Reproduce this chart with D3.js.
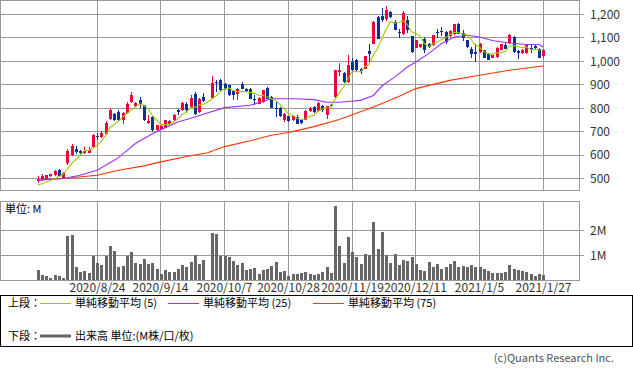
<!DOCTYPE html>
<html>
<head>
<meta charset="utf-8">
<script src="https://cdn.jsdelivr.net/npm/d3@7"></script>
<style>
  body { margin: 0; background: #fff; }
  svg { display: block; font-family: "Noto Sans CJK JP", "Noto Sans", sans-serif; }
</style>
</head>
<body>
<svg id="chart" width="633" height="373"></svg>
<script>
// daily candles, 2020/8/3 .. 2021/1/27 (index 40 = 2020/10/1, no trading)
var opens = [
  491,496,500,511,515,536,502,566,600,626,
  618,608,610,636,683,678,692,756,775,785,
  752,780,827,809,834,813,738,763,707,714,
  718,732,749,794,792,820,806,862,784,848,
  null,846,914,919,902,898,874,863,905,884,
  884,839,820,827,888,848,803,803,749,766,
  749,763,749,752,789,806,789,809,770,816,
  848,955,950,912,997,1007,969,969,1044,1075,
  1189,1192,1181,1210,1167,1123,1118,1177,1106,1058,
  1061,1097,1075,1068,1123,1131,1125,1106,1115,1160,
  1121,1089,1054,1040,1040,1047,1033,1016,1019,1050,
  1068,1078,1104,1044,1036,1036,1058,1064,1054,1021
];
var highs = [
  511,520,517,522,536,542,527,628,647,638,
  622,635,635,690,697,704,745,800,780,791,
  785,825,868,827,848,816,770,766,731,728,
  752,750,774,799,829,827,857,868,845,867,
  null,936,919,926,906,901,877,888,912,888,
  887,855,849,880,892,851,827,806,780,769,
  769,770,752,792,806,809,826,816,812,819,
  965,993,953,1026,1016,1010,972,1024,1075,1170,
  1192,1228,1234,1213,1175,1139,1213,1195,1109,1092,
  1075,1104,1078,1114,1139,1146,1129,1132,1161,1163,
  1132,1092,1061,1075,1078,1050,1036,1029,1061,1075,
  1082,1118,1107,1047,1053,1074,1068,1068,1057,1053
];
var lows = [
  480,492,497,508,512,508,498,560,596,607,
  604,605,608,632,664,675,690,750,745,746,
  732,776,824,807,803,745,734,700,703,710,
  715,729,746,770,789,785,803,772,781,825,
  null,841,870,874,880,852,834,837,881,870,
  838,813,817,824,838,800,763,763,742,743,
  746,732,735,749,786,782,786,785,756,806,
  845,936,909,909,955,959,948,966,997,1072,
  1094,1167,1174,1186,1132,1101,1111,1121,1037,1055,
  1058,1037,1058,1065,1101,1106,1072,1103,1112,1115,
  1087,1058,1016,997,1037,1013,1004,1013,1016,1047,
  1051,1075,1037,1011,1033,1033,1036,1050,1013,1016
];
var closes = [
  501,512,514,519,533,512,524,620,639,615,
  608,619,621,685,680,695,738,794,749,752,
  780,820,855,823,817,749,746,707,728,723,
  749,746,770,784,823,792,846,775,838,831,
  null,908,910,877,884,855,855,884,884,874,
  841,835,846,877,841,803,799,766,777,746,
  766,735,738,789,803,785,823,792,809,809,
  962,962,912,983,962,962,959,1021,1030,1167,
  1097,1175,1217,1189,1135,1119,1206,1132,1040,1089,
  1072,1047,1061,1111,1119,1128,1082,1129,1158,1118,
  1101,1061,1033,1030,1075,1016,1007,1026,1058,1072,
  1054,1111,1040,1036,1050,1071,1047,1057,1016,1050
];
// volume in millions
var volumes = [
  0.42,0.21,0.17,0.11,0.21,0.17,0.12,1.79,1.83,0.55,
  0.35,0.38,0.30,0.98,0.71,0.62,0.98,1.38,1.18,0.55,
  0.58,0.98,1.14,0.71,0.66,0.86,0.68,0.71,0.48,0.28,
  0.42,0.34,0.34,0.47,0.62,0.54,0.75,1.01,0.66,0.82,
  null,1.92,1.87,0.99,0.99,0.93,0.78,0.62,0.71,0.42,
  0.48,0.52,0.28,0.44,0.46,0.58,0.75,0.35,0.39,0.17,
  0.28,0.28,0.32,0.35,0.27,0.21,0.28,0.35,0.55,0.31,
  2.97,1.38,0.71,1.73,1.14,0.95,0.66,1.06,1.02,2.36,
  1.26,1.95,1.02,0.71,1.06,0.62,0.82,0.78,0.95,0.66,
  0.42,0.39,0.74,0.54,0.66,0.46,0.54,0.66,0.78,0.55,
  0.58,0.55,0.62,0.54,0.54,0.48,0.38,0.31,0.32,0.31,
  0.35,0.62,0.48,0.42,0.38,0.34,0.28,0.17,0.28,0.21
];

// moving averages (day index, value)
var ma5Head = [473, 479, 486, 493, 500, 509];
var ma25Day   = [0, 6, 10, 14, 18, 19, 23, 27, 29, 33, 37, 39, 44, 50, 55, 61, 65, 68, 71, 73, 76, 79, 81, 84, 87, 89, 92, 95, 98, 101, 104, 107, 111, 115, 118, 119];
var ma25Value = [494, 501, 515, 536, 579, 590, 650, 692, 709, 742, 763, 775, 803, 813, 841, 841, 837, 826, 826, 829, 834, 855, 895, 933, 976, 997, 1033, 1075, 1104, 1111, 1104, 1089, 1078, 1072, 1072, 1061];
var ma75Day   = [0, 6, 14, 19, 25, 29, 35, 40, 44, 50, 55, 59, 61, 65, 71, 79, 85, 89, 97, 104, 111, 117, 119];
var ma75Value = [495, 501, 515, 536, 555, 572, 595, 611, 637, 662, 685, 697, 705, 722, 752, 806, 850, 884, 919, 941, 962, 976, 980];

var tickDays = [14, 29, 44, 59, 74, 89, 104, 119];
var tickLabels = ["2020/8/24", "2020/9/14", "2020/10/7", "2020/10/28", "2020/11/19", "2020/12/11", "2021/1/5", "2021/1/27"];
var priceTicks = [500, 600, 700, 800, 900, 1000, 1100, 1200];
var volumeTicks = [1, 2];

var upColor = "#f0003c",
    downColor = "#0a3296",
    gridColor = "#999999",
    textColor = "#333333";

var x = d3.scaleLinear().domain([0, 119]).range([37.7, 543.3]);
var yP = d3.scaleLinear().domain([450, 1255]).range([190.5, 1.5]);
var yV = d3.scaleLinear().domain([0, 3.15]).range([280.5, 202]);

function crisp(v) { return Math.floor(v) + 0.5; }

var svg = d3.select("#chart");

// ---- grids and frames
function grid(g, ys, x1, x2) {
  g.selectAll(null).data(ys).enter().append("line")
    .attr("x1", x1).attr("x2", x2)
    .attr("y1", function(d) { return d; }).attr("y2", function(d) { return d; })
    .attr("stroke", gridColor);
}

var gGrid = svg.append("g");
grid(gGrid, priceTicks.map(function(d) { return crisp(yP(d)); }), 0, 584);
grid(gGrid, volumeTicks.map(function(d) { return crisp(yV(d)); }), 0, 584);
gGrid.selectAll("line.v").data(tickDays).enter().append("line")
  .attr("class", "v")
  .attr("x1", function(d) { return crisp(x(d)); }).attr("x2", function(d) { return crisp(x(d)); })
  .attr("y1", 0.5).attr("y2", 190.5)
  .attr("stroke", gridColor);
gGrid.selectAll("line.v2").data(tickDays).enter().append("line")
  .attr("class", "v2")
  .attr("x1", function(d) { return crisp(x(d)); }).attr("x2", function(d) { return crisp(x(d)); })
  .attr("y1", 201.5).attr("y2", 280.5)
  .attr("stroke", gridColor);
gGrid.append("rect").attr("x", 0.5).attr("y", 0.5).attr("width", 579).attr("height", 190)
  .attr("fill", "none").attr("stroke", gridColor);
gGrid.append("rect").attr("x", 0.5).attr("y", 201.5).attr("width", 579).attr("height", 79)
  .attr("fill", "none").attr("stroke", gridColor);

// ---- axis labels
svg.append("g").selectAll("text").data(priceTicks).enter().append("text")
  .attr("x", 590).attr("y", function(d) { return yP(d); })
  .attr("dy", "0.35em")
  .attr("font-size", 12).attr("fill", textColor)
  .text(d3.format(","));
svg.append("g").selectAll("text").data(volumeTicks).enter().append("text")
  .attr("x", 590).attr("y", function(d) { return yV(d); })
  .attr("dy", "0.35em")
  .attr("font-size", 12).attr("fill", textColor)
  .text(function(d) { return d + "M"; });
svg.append("g").selectAll("text").data(tickDays).enter().append("text")
  .attr("x", function(d) { return crisp(x(d)); }).attr("y", 292)
  .attr("text-anchor", "middle")
  .attr("font-size", 12).attr("fill", textColor)
  .text(function(d, i) { return tickLabels[i]; });
svg.append("text").attr("x", 5).attr("y", 213)
  .attr("font-size", 11).attr("fill", "#000").text("単位: M");

// ---- candles
var days = d3.range(opens.length).filter(function(i) { return opens[i] != null; });

var gCandle = svg.append("g");
gCandle.selectAll("line").data(days).enter().append("line")
  .attr("x1", function(i) { return Math.round(x(i)) + 0.5; })
  .attr("x2", function(i) { return Math.round(x(i)) + 0.5; })
  .attr("y1", function(i) { return Math.round(yP(highs[i])); })
  .attr("y2", function(i) { return Math.round(yP(lows[i])); })
  .attr("stroke", function(i) { return closes[i] >= opens[i] ? upColor : downColor; });
gCandle.selectAll("rect").data(days).enter().append("rect")
  .attr("x", function(i) { return Math.round(x(i)) - 1; })
  .attr("width", 3)
  .attr("y", function(i) { return Math.round(yP(Math.max(opens[i], closes[i]))); })
  .attr("height", function(i) {
    return Math.max(1, Math.round(yP(Math.min(opens[i], closes[i]))) - Math.round(yP(Math.max(opens[i], closes[i]))));
  })
  .attr("fill", function(i) { return closes[i] >= opens[i] ? upColor : downColor; });

// ---- moving averages
var ma5 = days.map(function(i, k) {
  if (i < ma5Head.length) return [i, ma5Head[i]];
  var last = days.slice(Math.max(0, k - 4), k + 1).map(function(j) { return closes[j]; });
  return [i, d3.mean(last)];
});
var ma25 = ma25Day.map(function(d, k) { return [d, ma25Value[k]]; });
var ma75 = ma75Day.map(function(d, k) { return [d, ma75Value[k]]; });

var line = d3.line()
  .x(function(d) { return x(d[0]); })
  .y(function(d) { return yP(d[1]); });

[[ma75, "#ff3300"], [ma25, "#9b30ff"], [ma5, "#99cc00"]].forEach(function(s) {
  svg.append("path").datum(s[0])
    .attr("d", line)
    .attr("fill", "none")
    .attr("stroke", s[1])
    .attr("stroke-width", 1.1);
});

// ---- volume
svg.append("g").selectAll("rect").data(days).enter().append("rect")
  .attr("x", function(i) { return Math.round(x(i)) - 1; })
  .attr("width", 3)
  .attr("y", function(i) { return Math.round(yV(volumes[i])); })
  .attr("height", function(i) { return 280 - Math.round(yV(volumes[i])); })
  .attr("fill", "#666666");

// ---- legend
var lg = svg.append("g").attr("font-size", 11).attr("fill", "#000");
lg.append("rect").attr("x", 0.5).attr("y", 295.5).attr("width", 632).attr("height", 51)
  .attr("fill", "none").attr("stroke", "#000");
lg.append("text").attr("x", 8).attr("y", 307).text("上段：");
var legendItems = [
  {x: 40, color: "#99cc00", label: "単純移動平均 (5)"},
  {x: 168, color: "#9b30ff", label: "単純移動平均 (25)"},
  {x: 313, color: "#ff3300", label: "単純移動平均 (75)"}
];
legendItems.forEach(function(d) {
  lg.append("line").attr("x1", d.x).attr("x2", d.x + 31).attr("y1", 303.5).attr("y2", 303.5)
    .attr("stroke", d.color);
  lg.append("text").attr("x", d.x + 35).attr("y", 307).text(d.label);
});
lg.append("text").attr("x", 8).attr("y", 340).text("下段：");
lg.append("line").attr("x1", 40).attr("x2", 71).attr("y1", 336).attr("y2", 336)
  .attr("stroke", "#666666").attr("stroke-width", 3);
lg.append("text").attr("x", 75).attr("y", 340).text("出来高 単位:(M株/口/枚)");

svg.append("text").attr("x", 614).attr("y", 362)
  .attr("text-anchor", "end").attr("font-size", 11).attr("fill", "#555")
  .text("(c)Quants Research Inc.");
</script>
</body>
</html>
